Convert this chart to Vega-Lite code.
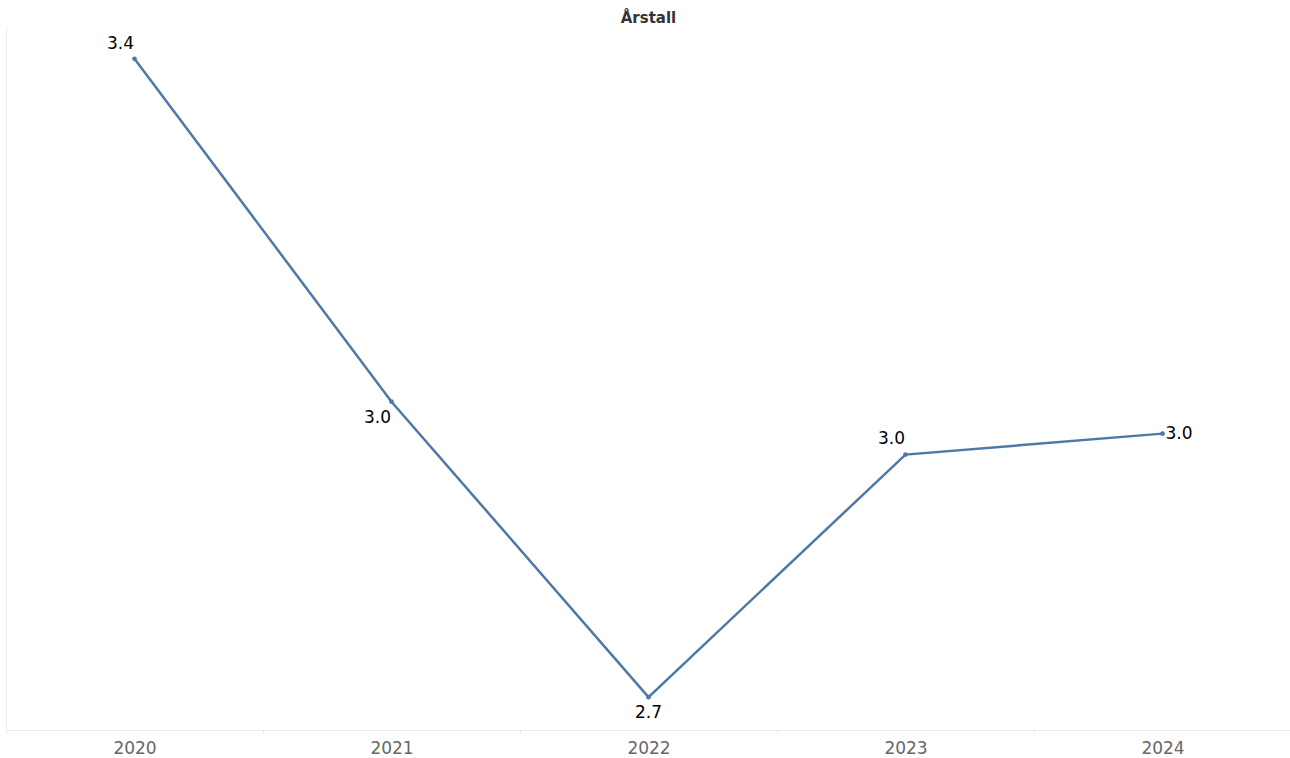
{
  "$schema": "https://vega.github.io/schema/vega-lite/v6.json",
  "width": 1285,
  "height": 704,
  "autosize": {"type": "none"},
  "padding": {"left": 6, "top": 26, "right": 0, "bottom": 28},
  "background": "white",
  "config": {"view": {"stroke": null}},
  "title": {
    "text": "Årstall",
    "anchor": "middle",
    "font": "DejaVu Sans",
    "fontSize": 15,
    "fontWeight": "bold",
    "color": "#333333",
    "baseline": "alphabetic",
    "offset": 3,
    "dy": 15
  },
  "data": {
    "values": [
      {"year": "2020", "value": 3.40, "label": "3.4"},
      {"year": "2021", "value": 3.024, "label": "3.0"},
      {"year": "2022", "value": 2.70, "label": "2.7"},
      {"year": "2023", "value": 2.966, "label": "3.0"},
      {"year": "2024", "value": 2.989, "label": "3.0"}
    ]
  },
  "encoding": {
    "x": {
      "field": "year",
      "type": "ordinal",
      "scale": {"type": "band", "paddingInner": 0, "paddingOuter": 0},
      "axis": {
        "title": null,
        "labelAngle": 0,
        "labelFont": "DejaVu Sans",
        "labelFontSize": 17,
        "labelColor": "#666666",
        "labelPadding": 6,
        "domainColor": "#eaeaea",
        "tickColor": "#eaeaea",
        "tickSize": 4,
        "tickBand": "extent",
        "grid": false
      }
    },
    "y": {
      "field": "value",
      "type": "quantitative",
      "scale": {"domain": [2.664, 3.436], "zero": false, "nice": false},
      "axis": {
        "title": null,
        "labels": false,
        "ticks": false,
        "grid": false,
        "domainColor": "#eeeeee"
      }
    }
  },
  "layer": [
    {"mark": {"type": "line", "color": "#4e79a7", "strokeWidth": 2.5}},
    {"mark": {"type": "point", "filled": true, "color": "#4e79a7", "size": 22, "opacity": 1}},
    {
      "transform": [{"filter": "datum.year == '2020'"}],
      "mark": {"type": "text", "font": "DejaVu Sans", "fontSize": 17, "color": "#000000", "dx": -14, "dy": -15},
      "encoding": {"text": {"field": "label"}}
    },
    {
      "transform": [{"filter": "datum.year == '2021'"}],
      "mark": {"type": "text", "font": "DejaVu Sans", "fontSize": 17, "color": "#000000", "dx": -14, "dy": 16},
      "encoding": {"text": {"field": "label"}}
    },
    {
      "transform": [{"filter": "datum.year == '2022'"}],
      "mark": {"type": "text", "font": "DejaVu Sans", "fontSize": 17, "color": "#000000", "dx": 0, "dy": 16},
      "encoding": {"text": {"field": "label"}}
    },
    {
      "transform": [{"filter": "datum.year == '2023'"}],
      "mark": {"type": "text", "font": "DejaVu Sans", "fontSize": 17, "color": "#000000", "dx": -14, "dy": -16},
      "encoding": {"text": {"field": "label"}}
    },
    {
      "transform": [{"filter": "datum.year == '2024'"}],
      "mark": {"type": "text", "font": "DejaVu Sans", "fontSize": 17, "color": "#000000", "align": "left", "dx": 3, "dy": 0},
      "encoding": {"text": {"field": "label"}}
    }
  ]
}
